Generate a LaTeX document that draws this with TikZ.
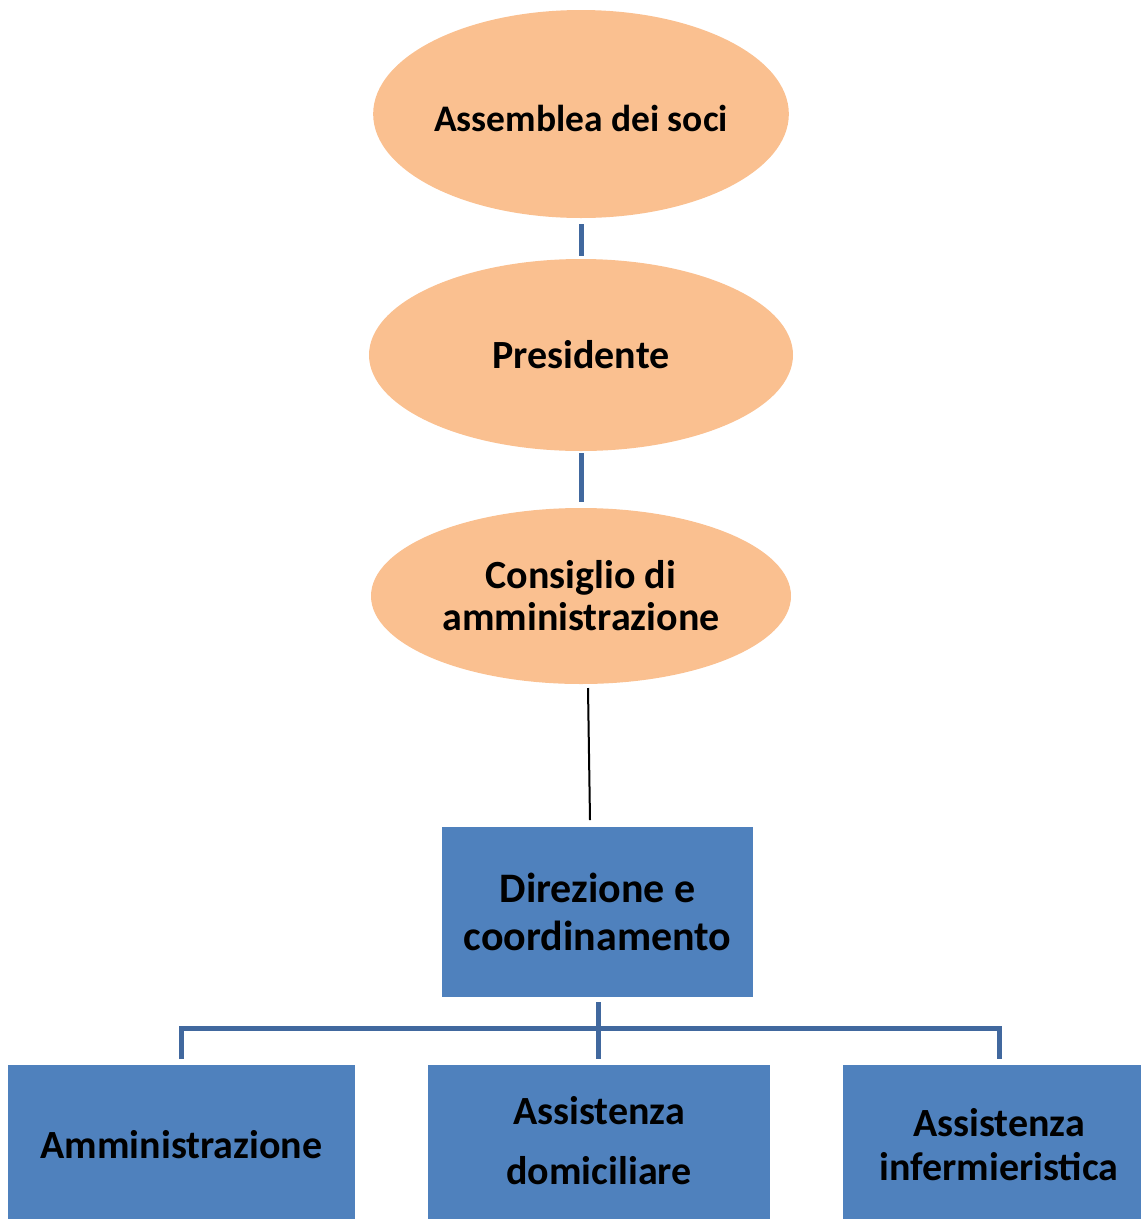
\documentclass[tikz,border=0pt]{standalone}
\usepackage{fontspec}
\setmainfont{Carlito}
\usetikzlibrary{shapes.geometric}
\definecolor{peach}{RGB}{250,192,144}
\definecolor{boxblue}{RGB}{79,129,189}
\definecolor{linkblue}{RGB}{65,104,158}
\begin{document}
\begin{tikzpicture}[x=1pt,y=-1pt,
  oval/.style={ellipse,fill=peach,draw=none,inner sep=0pt,align=center,
    font=\fontsize{40}{42}\selectfont\bfseries},
  unit/.style={rectangle,fill=boxblue,draw=none,inner sep=0pt,align=center,
    font=\fontsize{40}{44}\selectfont\bfseries},
  link/.style={draw=linkblue,line width=5pt}]
\useasboundingbox (0,0) rectangle (1141,1219);
\node[oval,minimum width=415pt,minimum height=208pt,font=\fontsize{37.5}{42}\selectfont\bfseries] (a) at (581,114) {\rule{0pt}{35pt}Assemblea dei soci};
\node[oval,minimum width=424pt,minimum height=192pt] (p) at (581,355) {Presidente};
\node[oval,minimum width=420pt,minimum height=176pt] (c) at (581,596) {Consiglio di\\amministrazione};
\node[unit,minimum width=311pt,minimum height=170pt,font=\fontsize{42}{48}\selectfont\bfseries] (d) at (597.5,912) {Direzione e\\coordinamento};
\node[unit,minimum width=347pt,minimum height=160pt] (u1) at (181.5,1145) {Amministrazione};
\node[unit,minimum width=342pt,minimum height=160pt,font=\fontsize{40}{60}\selectfont\bfseries] (u2) at (599,1145) {Assistenza\\domiciliare\rule[-10pt]{0pt}{10pt}};
\node[unit,minimum width=300pt,minimum height=160pt] (u3) at (993,1145) {\hspace*{12pt}Assistenza\\\hspace*{12pt}infermieristica};
\coordinate (c1) at (581,224);
\coordinate (c2) at (581,256);
\coordinate (c3) at (581,453);
\coordinate (c4) at (581,502);
\draw[link] (c1) -- (c2);
\draw[link] (c3) -- (c4);
\coordinate (k1) at (588,688);
\coordinate (k2) at (590,820);
\draw[black,line width=2pt] (k1) -- (k2);
\coordinate (h0) at (598,1002);
\coordinate (hl) at (181,1028);
\coordinate (hr) at (999,1028);
\draw[link] (h0) -- (598,1059);
\draw[link] (181,1059) -- (hl) -- (hr) -- (999,1059);
\end{tikzpicture}
\end{document}
